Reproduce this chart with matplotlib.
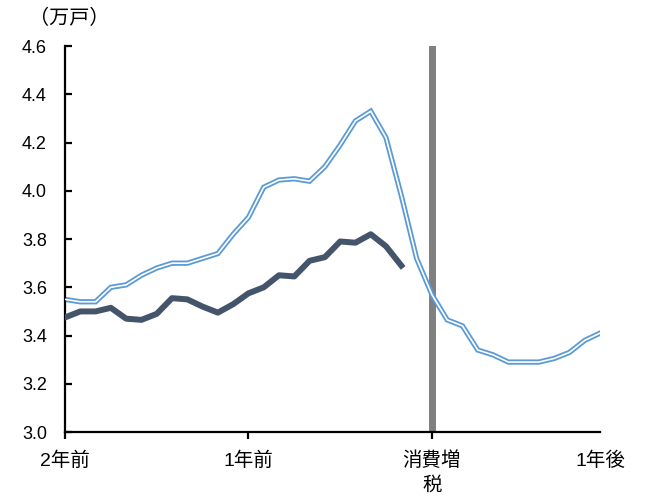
import matplotlib.pyplot as plt

plt.rcParams['font.family'] = ['Liberation Sans', 'Noto Sans CJK JP']

# monthly series, month 0 = two years before the tax increase
light_vals = [3.55, 3.54, 3.54, 3.60, 3.61, 3.65, 3.68, 3.70, 3.70, 3.72,
              3.74, 3.82, 3.89, 4.015, 4.045, 4.05, 4.04, 4.10, 4.19, 4.29,
              4.33, 4.22, 3.98, 3.72, 3.57, 3.465, 3.44, 3.34, 3.32, 3.29,
              3.29, 3.29, 3.305, 3.33, 3.38, 3.41]
dark_vals = [3.475, 3.50, 3.50, 3.515, 3.47, 3.465, 3.49, 3.555, 3.55, 3.52,
             3.495, 3.53, 3.575, 3.60, 3.65, 3.645, 3.71, 3.725, 3.79, 3.785,
             3.82, 3.77, 3.69]
tick_pos = [0, 12, 24, 35]
tick_labels = ["2年前", "1年前", "消費増\n税", "1年後"]
tax_month = 24

fig = plt.figure(figsize=(6.48, 4.96), dpi=100)
ax = fig.add_axes([0.1003, 0.129, 0.8257, 0.778])

ax.axvline(tax_month, color='#808080', linewidth=5, zorder=1)

xl = list(range(len(light_vals)))
ax.plot(xl, light_vals, color='#5B9BD5', linewidth=3.8, zorder=2,
        solid_joinstyle='miter')
ax.plot(xl, light_vals, color='white', linewidth=1.2, zorder=3,
        solid_joinstyle='miter')
xd = list(range(len(dark_vals)))
ax.plot(xd, dark_vals, color='#44546A', linewidth=4.3, zorder=4)

ax.set_xlim(0, 35)
ax.set_ylim(3.0, 4.6)
ax.set_yticks([3.0, 3.2, 3.4, 3.6, 3.8, 4.0, 4.2, 4.4, 4.6])
ax.set_yticklabels(['3.0', '3.2', '3.4', '3.6', '3.8', '4.0', '4.2', '4.4', '4.6'])
ax.set_xticks(tick_pos)
ax.set_xticklabels(tick_labels, linespacing=1.5, va='top')
ax.xaxis.get_major_ticks()[-1].tick1line.set_visible(False)

for s in ['top', 'right']:
    ax.spines[s].set_visible(False)
for s in ['left', 'bottom']:
    ax.spines[s].set_linewidth(1.6)
ax.tick_params(axis='y', direction='in', length=5, width=1.6, labelsize=13, pad=13)
ax.tick_params(axis='x', direction='out', length=5, width=1.6, labelsize=14, pad=9)

fig.text(0.107, 0.962, "（万戸）", fontsize=14.5, va='center', ha='center')

fig.savefig('out.png', dpi=100)
